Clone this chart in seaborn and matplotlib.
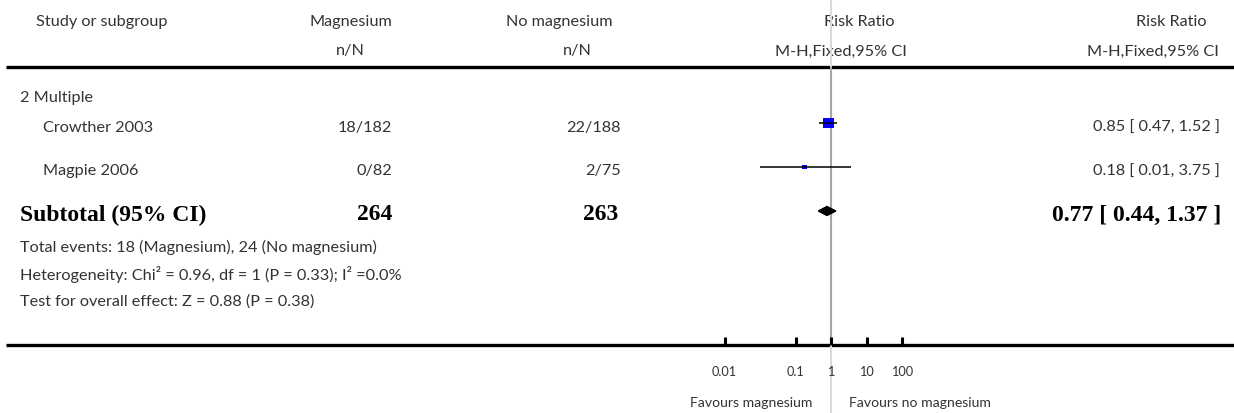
import numpy as np
import pandas as pd
import matplotlib
matplotlib.use("Agg")
import matplotlib.pyplot as plt
import seaborn as sns

# ---- study data -------------------------------------------------------------
studies = ["Crowther 2003", "Magpie 2006"]
mg_events = [18, 0]
mg_total = [182, 82]
ctl_events = [22, 2]
ctl_total = [188, 75]
rr = [0.85, 0.18]
rr_lo = [0.47, 0.01]
rr_hi = [1.52, 3.75]

subgroup = "2 Multiple"
sub_mg_total = 264
sub_ctl_total = 263
sub_rr, sub_lo, sub_hi = 0.77, 0.44, 1.37

footnotes = [
    "Total events: 18 (Magnesium), 24 (No magnesium)",
    "Heterogeneity: Chi² = 0.96, df = 1 (P = 0.33); I² =0.0%",
    "Test for overall effect: Z = 0.88 (P = 0.38)",
]

tick_values = [0.001, 0.1, 1, 10, 100]
tick_labels = ["0.01", "0.1", "1", "10", "100"]

# ---- layout (figure pixels) -------------------------------------------------
W, H = 1234, 414
sns.set_theme(style="white")
plt.rcParams["font.family"] = ["Lato", "DejaVu Sans"]

fig = plt.figure(figsize=(W / 100, H / 100), dpi=100)
ax = fig.add_axes([0, 0, 1, 1])
ax.set_xlim(0, W)
ax.set_ylim(H, 0)
ax.axis("off")

# forest panel: log axis, 1 at x=831 px, 35.5 px per decade
px_dec = 35.5
x_one = 831
fx_left = x_one - 5 * px_dec
fx = fig.add_axes([fx_left / W, 0, 10 * px_dec / W, 1])
fx.set_xscale("log")
fx.set_xlim(1e-5, 1e5)
fx.set_ylim(H, 0)
fx.axis("off")
fx.patch.set_alpha(0)

txt = "#333333"
fs = 11.7
fw = "normal"
bfs = 17
serif = ["Liberation Serif", "DejaVu Serif"]

col1_r, col2_r = 392, 621
nn1_r, nn2_r = 365, 592
rc_r = 1220


def t(x, y, s, ha="left", size=fs, **kw):
    kw.setdefault("color", txt)
    kw.setdefault("fontweight", fw)
    ax.text(x, y, s, ha=ha, va="center", fontsize=size, **kw)


# header
y_h1, y_h2 = 22, 51.5
t(36, y_h1, "Study or subgroup")
t(col1_r, y_h1, "Magnesium", ha="right")
t(nn1_r, y_h2, "n/N", ha="right")
t(613, y_h1, "No magnesium", ha="right")
t(nn2_r, y_h2, "n/N", ha="right")
t(894, y_h1, "Risk Ratio", ha="right")
t(907, y_h2, "M-H,Fixed,95% CI", ha="right")
t(1206, y_h1, "Risk Ratio", ha="right")
t(1219, y_h2, "M-H,Fixed,95% CI", ha="right")

# horizontal rules
y_top, y_bot = 67.7, 345.5
ax.hlines([y_top, y_bot], 6, W, color="black", linewidth=2.4)

# vertical line of no effect
fx.vlines(1, y_top, y_bot, color="#a6a6a6", linewidth=1.5, zorder=1)
fx.vlines(1, 0, y_top, color="#d9d9d9", linewidth=1.5, zorder=1)
fx.vlines(1, y_bot, H, color="#d9d9d9", linewidth=1.5, zorder=1)

# subgroup heading
t(20, 98, subgroup)

# study rows
row_txt = [128, 171.5]
row_mark = [124, 168]
for i, name in enumerate(studies):
    t(43, row_txt[i], name)
    t(col1_r, row_txt[i], f"{mg_events[i]}/{mg_total[i]}", ha="right")
    t(col2_r, row_txt[i], f"{ctl_events[i]}/{ctl_total[i]}", ha="right")
    t(rc_r, row_txt[i], f"{rr[i]:.2f} [ {rr_lo[i]:.2f}, {rr_hi[i]:.2f} ]", ha="right")

df = pd.DataFrame({"rr": rr, "row": row_mark})
box_sizes = [60, 12]
sns.scatterplot(data=df, x="rr", y="row", ax=fx, marker="s", s=box_sizes,
                color="#0000ff", edgecolor="none", linewidth=0, zorder=2, legend=False)
fx.hlines(row_mark, rr_lo, rr_hi, color="black", linewidth=1.1, zorder=3)

# subtotal row
y_sub_txt, y_sub = 215, 212
bold = dict(size=bfs, fontweight="bold", family=serif, color="black")
t(20, y_sub_txt, "Subtotal (95% CI)", **bold)
t(col1_r, y_sub_txt, f"{sub_mg_total}", ha="right", **bold)
t(col2_r - 3, y_sub_txt, f"{sub_ctl_total}", ha="right", **bold)
t(rc_r + 1, y_sub_txt, f"{sub_rr:.2f} [ {sub_lo:.2f}, {sub_hi:.2f} ]", ha="right", **bold)
dh = 4.5
fx.fill([sub_lo, sub_rr, sub_hi, sub_rr], [y_sub, y_sub - dh, y_sub, y_sub + dh],
        color="black", zorder=3)

# footnotes
for y, line in zip([247, 275, 302], footnotes):
    t(20, y, line)

# axis ticks and labels
fx.vlines(tick_values, y_bot - 7.5, y_bot, color="black", linewidth=2.2, zorder=3)
for v, lab in zip(tick_values, tick_labels):
    fx.text(v, 372.5, lab, ha="center", va="center", fontsize=9.2, color=txt,
            fontweight=fw)
fx.text(0.29, 403, "Favours magnesium", ha="right", va="center", fontsize=10.1,
        color=txt, fontweight=fw)
fx.text(3.2, 403, "Favours no magnesium", ha="left", va="center", fontsize=10.1,
        color=txt, fontweight=fw)

fig.savefig("out.png", dpi=100)
